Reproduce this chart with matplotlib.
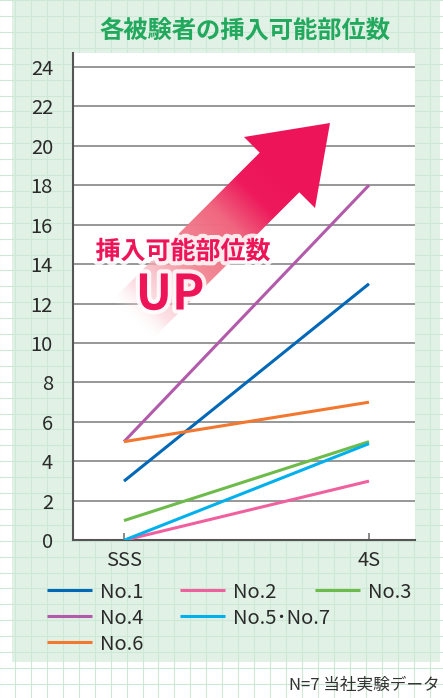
"""plot.py

各被験者の挿入可能部位数 — SSS vs 4S, one line per subject.
"""
import matplotlib
matplotlib.use("Agg")
import matplotlib.pyplot as plt
import matplotlib.patheffects as pe
from matplotlib.patches import Polygon, Rectangle
from matplotlib.colors import LinearSegmentedColormap
import numpy as np

plt.rcParams["font.family"] = ["Noto Sans CJK JP", "DejaVu Sans"]

# ---------------------------------------------------------------------------
# Data
# ---------------------------------------------------------------------------
CATEGORIES = ["SSS", "4S"]
SUBJECTS = ["No.1", "No.2", "No.3", "No.4", "No.5･No.7", "No.6"]
VALUES_SSS = [3, 0, 1, 5, 0, 5]
VALUES_4S = [13, 3, 5, 18, 4.9, 7]
Y_TICKS = list(range(0, 25, 2))

TITLE = "各被験者の挿入可能部位数"
ARROW_TEXT = "挿入可能部位数"
ARROW_TEXT2 = "UP"
FOOTER = "N=7 当社実験データ"

# ---------------------------------------------------------------------------
# Style
# ---------------------------------------------------------------------------
W, H = 443, 698
COLORS = ["#0068B7", "#F0609E", "#6DBB4A", "#B15BAA", "#00B0EC", "#F2772F"]
GREEN_TITLE = "#22A95E"
PANEL = "#E1F1E5"
PAPER_LINE = "#CDE8D4"
PINK = "#EE1458"
GRID = "#7a7a7a"
TEXT = "#2a2a2a"
# legend slot (row, col) for each subject
LEGEND_SLOTS = [(0, 0), (0, 1), (0, 2), (1, 0), (1, 1), (2, 0)]


def px_axes(fig, zorder):
    """Full-figure axes in pixel coordinates (y down)."""
    a = fig.add_axes([0, 0, 1, 1], zorder=zorder)
    a.set_xlim(0, W)
    a.set_ylim(H, 0)
    a.axis("off")
    a.patch.set_alpha(0)
    return a


fig = plt.figure(figsize=(W / 100, H / 100), dpi=100, facecolor="white")

# background: graph paper + green panel
bg = px_axes(fig, 0)
for x in np.arange(-1, W + 16, 15.95):
    bg.axvline(x, color=PAPER_LINE, lw=0.8)
for y in np.arange(0.1, H + 16, 15.9):
    bg.axhline(y, color=PAPER_LINE, lw=0.8)
bg.add_patch(Rectangle((12, -2), 428, 664, facecolor=PANEL, edgecolor="none"))

# main chart
left, right, top, bottom = 73, 414.7, 53.3, 540.3
ax = fig.add_axes([left / W, 1 - bottom / H, (right - left) / W, (bottom - top) / H],
                  zorder=1)
ax.set_facecolor("white")
x = np.arange(len(CATEGORIES))
for name, c, a, b in zip(SUBJECTS, COLORS, VALUES_SSS, VALUES_4S):
    ax.plot(x, [a, b], color=c, lw=2.2, solid_capstyle="butt", zorder=3, label=name)

ax.set_xlim((left - 124) / 245, (right - 124) / 245)
ax.set_ylim(0, (bottom - top) / 19.73)
ax.set_yticks(Y_TICKS)
ax.set_xticks(x)
ax.set_xticklabels(CATEGORIES)
ax.yaxis.grid(True, color=GRID, lw=1.1)
ax.set_axisbelow(True)
ax.tick_params(axis="y", length=0, pad=14.4, labelsize=14.5, labelcolor=TEXT)
ax.tick_params(axis="x", direction="in", length=5, width=1.2, color="#777",
               pad=7, labelsize=14.5, labelcolor=TEXT)
for s in ("top", "right"):
    ax.spines[s].set_visible(False)
for s in ("left", "bottom"):
    ax.spines[s].set_color("#555")
    ax.spines[s].set_linewidth(1.5)

# overlay: title, arrow, legend, footer
ov = px_axes(fig, 2)
ov.text(245, 31, TITLE, ha="center", va="center", fontsize=17.5,
        fontweight="bold", color=GREEN_TITLE)

# gradient arrow
tail_c = np.array([131.0, 321.0])
u = np.array([1.0, -1.0]) / np.sqrt(2)
n = np.array([1.0, 1.0]) / np.sqrt(2)
L = 210.0
half = 28.0
notch_c = tail_c + u * L
arrow_pts = [
    tail_c - n * half,
    notch_c - n * half,
    (244, 137),
    (330, 123),
    (315, 208),
    notch_c + n * half,
    tail_c + n * half,
]
clip = Polygon(arrow_pts, closed=True, facecolor="none", edgecolor="none")
ov.add_patch(clip)
stops = [
    (0.00, (1.00, 1.00, 1.00, 0.00)),
    (0.12, (0.98, 0.80, 0.83, 0.55)),
    (0.40, (0.95, 0.52, 0.57, 0.95)),
    (0.66, (0.94, 0.40, 0.50, 1.00)),
    (0.84, (0.93, 0.10, 0.36, 1.00)),
    (1.00, (0.93, 0.08, 0.35, 1.00)),
]
cmap = LinearSegmentedColormap.from_list("arrow", stops)
x0, x1, y0, y1 = 100, 336, 115, 352
gx, gy = np.meshgrid(np.arange(x0, x1, 0.5), np.arange(y0, y1, 0.5))
s = ((gx - tail_c[0]) * u[0] + (gy - tail_c[1]) * u[1]) / L
img = cmap(np.clip(s, 0, 1))
im = ov.imshow(img, extent=(x0, x1, y1, y0), origin="upper",
               interpolation="bilinear", zorder=3)
im.set_clip_path(clip)
ov.set_xlim(0, W)
ov.set_ylim(H, 0)

glow = [pe.withStroke(linewidth=6, foreground=(1, 1, 1, 0.85))]
ov.text(183, 252, ARROW_TEXT, ha="center", va="center", fontsize=18,
        fontweight="bold", color=PINK, path_effects=glow, zorder=4)
ov.text(170, 295, ARROW_TEXT2, ha="center", va="center", fontsize=35,
        fontweight="bold", color=PINK, path_effects=glow, zorder=4)

# legend, row-wise in a 3-column grid
row_y = [590, 616, 642]
col_x = [47, 180, 315]
for (r, cidx), name, c in zip(LEGEND_SLOTS, SUBJECTS, COLORS):
    lx, ly = col_x[cidx], row_y[r]
    ov.plot([lx, lx + 45], [ly, ly], color=c, lw=2.2, solid_capstyle="butt")
    ov.text(lx + 53, ly, name, ha="left", va="center_baseline",
            fontsize=14.5, color=TEXT)

ov.text(440, 683, FOOTER, ha="right", va="center_baseline", fontsize=12,
        color="#333")

fig.savefig("out.png", dpi=100)
